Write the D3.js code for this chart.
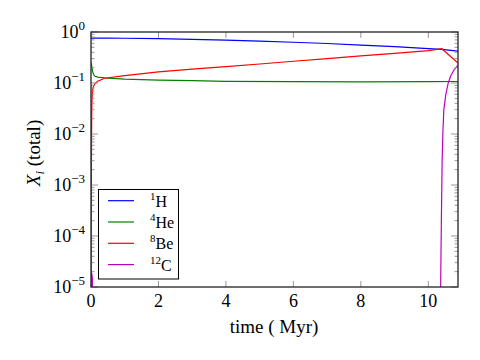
<!DOCTYPE html>
<html><head><meta charset="utf-8">
<script src="https://cdn.jsdelivr.net/npm/d3@7"></script>
<style>
body{margin:0;background:#fff;}
text{font-family:"Liberation Serif","Times New Roman",serif;fill:#000;}
</style></head>
<body><svg id="c" width="480" height="360"></svg>
<script>
// Data
const seriesNames = ["H", "He", "Be", "C"];
const massNumbers = ["1", "4", "8", "12"];
const seriesColors = ["#0000ff", "#008000", "#ff0000", "#bf00bf"];

const tH  = [0, 0.5, 1, 2, 3, 4, 5, 6, 7, 8, 9, 10, 10.4, 10.88];
const xH  = [0.76, 0.758, 0.755, 0.74, 0.72, 0.695, 0.665, 0.63, 0.595, 0.555, 0.515, 0.47, 0.455, 0.42];

const tHe = [0, 0.02, 0.05, 0.08, 0.12, 0.2, 0.4, 1, 2, 3, 4, 6, 8, 10, 10.88];
const xHe = [0.25, 0.22, 0.165, 0.145, 0.135, 0.13, 0.126, 0.119, 0.114, 0.111, 0.108, 0.106, 0.105, 0.106, 0.107];

const tBe = [0, 0.005, 0.01, 0.02, 0.03, 0.05, 0.08, 0.12, 0.2, 0.4, 1, 2, 3, 4, 5, 6, 7, 8, 9, 10, 10.4, 10.88];
const xBe = [1e-6, 1e-4, 2e-3, 0.02, 0.05, 0.075, 0.088, 0.097, 0.108, 0.124, 0.14, 0.165, 0.187, 0.21, 0.236, 0.267, 0.30, 0.34, 0.38, 0.43, 0.47, 0.245];

const tC  = [0, 0.02, 0.04, 0.07, 10.34, 10.37, 10.39, 10.41, 10.43, 10.46, 10.52, 10.59, 10.67, 10.76, 10.88];
const xC  = [1e-7, 1.9e-5, 1.5e-5, 1e-7, 1e-7, 2e-5, 3e-4, 3e-3, 1e-2, 0.03, 0.06, 0.1, 0.14, 0.18, 0.225];

const xTicks = [0, 2, 4, 6, 8, 10];
const yExps = [0, -1, -2, -3, -4, -5];

const series = [
  {t: tH, v: xH}, {t: tHe, v: xHe}, {t: tBe, v: xBe}, {t: tC, v: xC}
];

const svg = d3.select("#c");
const L = 91, T = 32, W = 367, H = 255;
const x = d3.scaleLinear().domain([0, 10.88]).range([L, L + W]);
const y = d3.scaleLog().domain([1e-5, 1]).range([T + H, T]);

svg.append("defs").append("clipPath").attr("id", "clip")
  .append("rect").attr("x", L).attr("y", T).attr("width", W).attr("height", H);

const line = d3.line().x(d => x(d[0])).y(d => y(d[1]));
const g = svg.append("g").attr("clip-path", "url(#clip)");
series.forEach((s, i) => {
  g.append("path").datum(s.t.map((t, k) => [t, s.v[k]]))
    .attr("d", line).attr("fill", "none")
    .attr("stroke", seriesColors[i]).attr("stroke-width", 1.2);
});

// ticks (inward, all sides)
const tickCol = "#999";
const tk = svg.append("g");
xTicks.forEach(v => {
  tk.append("line").attr("x1", x(v)).attr("x2", x(v)).attr("y1", T + H).attr("y2", T + H - 6).attr("stroke", tickCol);
  tk.append("line").attr("x1", x(v)).attr("x2", x(v)).attr("y1", T).attr("y2", T + 6).attr("stroke", tickCol);
});
yExps.forEach(e => {
  const yy = y(Math.pow(10, e));
  tk.append("line").attr("x1", L).attr("x2", L + 7).attr("y1", yy).attr("y2", yy).attr("stroke", tickCol);
  tk.append("line").attr("x1", L + W).attr("x2", L + W - 7).attr("y1", yy).attr("y2", yy).attr("stroke", tickCol);
  if (e < 0) {
    for (let m = 2; m <= 9; m++) {
      const my = y(m * Math.pow(10, e));
      tk.append("line").attr("x1", L).attr("x2", L + 3.5).attr("y1", my).attr("y2", my).attr("stroke", tickCol);
      tk.append("line").attr("x1", L + W).attr("x2", L + W - 3.5).attr("y1", my).attr("y2", my).attr("stroke", tickCol);
    }
  }
});

// frame
svg.append("rect").attr("x", L).attr("y", T).attr("width", W).attr("height", H)
  .attr("fill", "none").attr("stroke", "#222").attr("stroke-width", 1.3);

// tick labels
xTicks.forEach(v => {
  svg.append("text").attr("x", x(v)).attr("y", T + H + 20).attr("text-anchor", "middle")
    .attr("font-size", 18).text(v);
});
yExps.forEach(e => {
  const t = svg.append("text").attr("x", L - 6).attr("y", y(Math.pow(10, e)) + 6)
    .attr("text-anchor", "end").attr("font-size", 18);
  t.append("tspan").text("10");
  t.append("tspan").attr("dy", -8).attr("font-size", 13).text(e === 0 ? "0" : "\u2212" + Math.abs(e));
});

// axis labels
svg.append("text").attr("x", 274).attr("y", 333).attr("text-anchor", "middle")
  .attr("font-size", 19).text("time ( Myr)");
const yl = svg.append("text").attr("transform", "translate(40,153) rotate(-90)")
  .attr("text-anchor", "middle").attr("font-size", 19);
yl.append("tspan").attr("font-style", "italic").text("X");
yl.append("tspan").attr("font-style", "italic").attr("font-size", 13).attr("dy", 4).text("i");
yl.append("tspan").attr("dy", -4).text(" (total)");

// legend
const lg = svg.append("g");
lg.append("rect").attr("x", 98.5).attr("y", 189.5).attr("width", 80).attr("height", 89.5)
  .attr("fill", "#fff").attr("stroke", "#000").attr("stroke-width", 1);
seriesNames.forEach((n, i) => {
  const yy = 200.7 + i * 21.3;
  lg.append("line").attr("x1", 108).attr("x2", 134).attr("y1", yy).attr("y2", yy)
    .attr("stroke", seriesColors[i]).attr("stroke-width", 1.2);
  const t = lg.append("text").attr("x", 150).attr("y", yy + 6).attr("font-size", 16);
  t.append("tspan").attr("font-size", 11).attr("dy", -7).text(massNumbers[i]);
  t.append("tspan").attr("dy", 7).text(n);
});
</script></body></html>
